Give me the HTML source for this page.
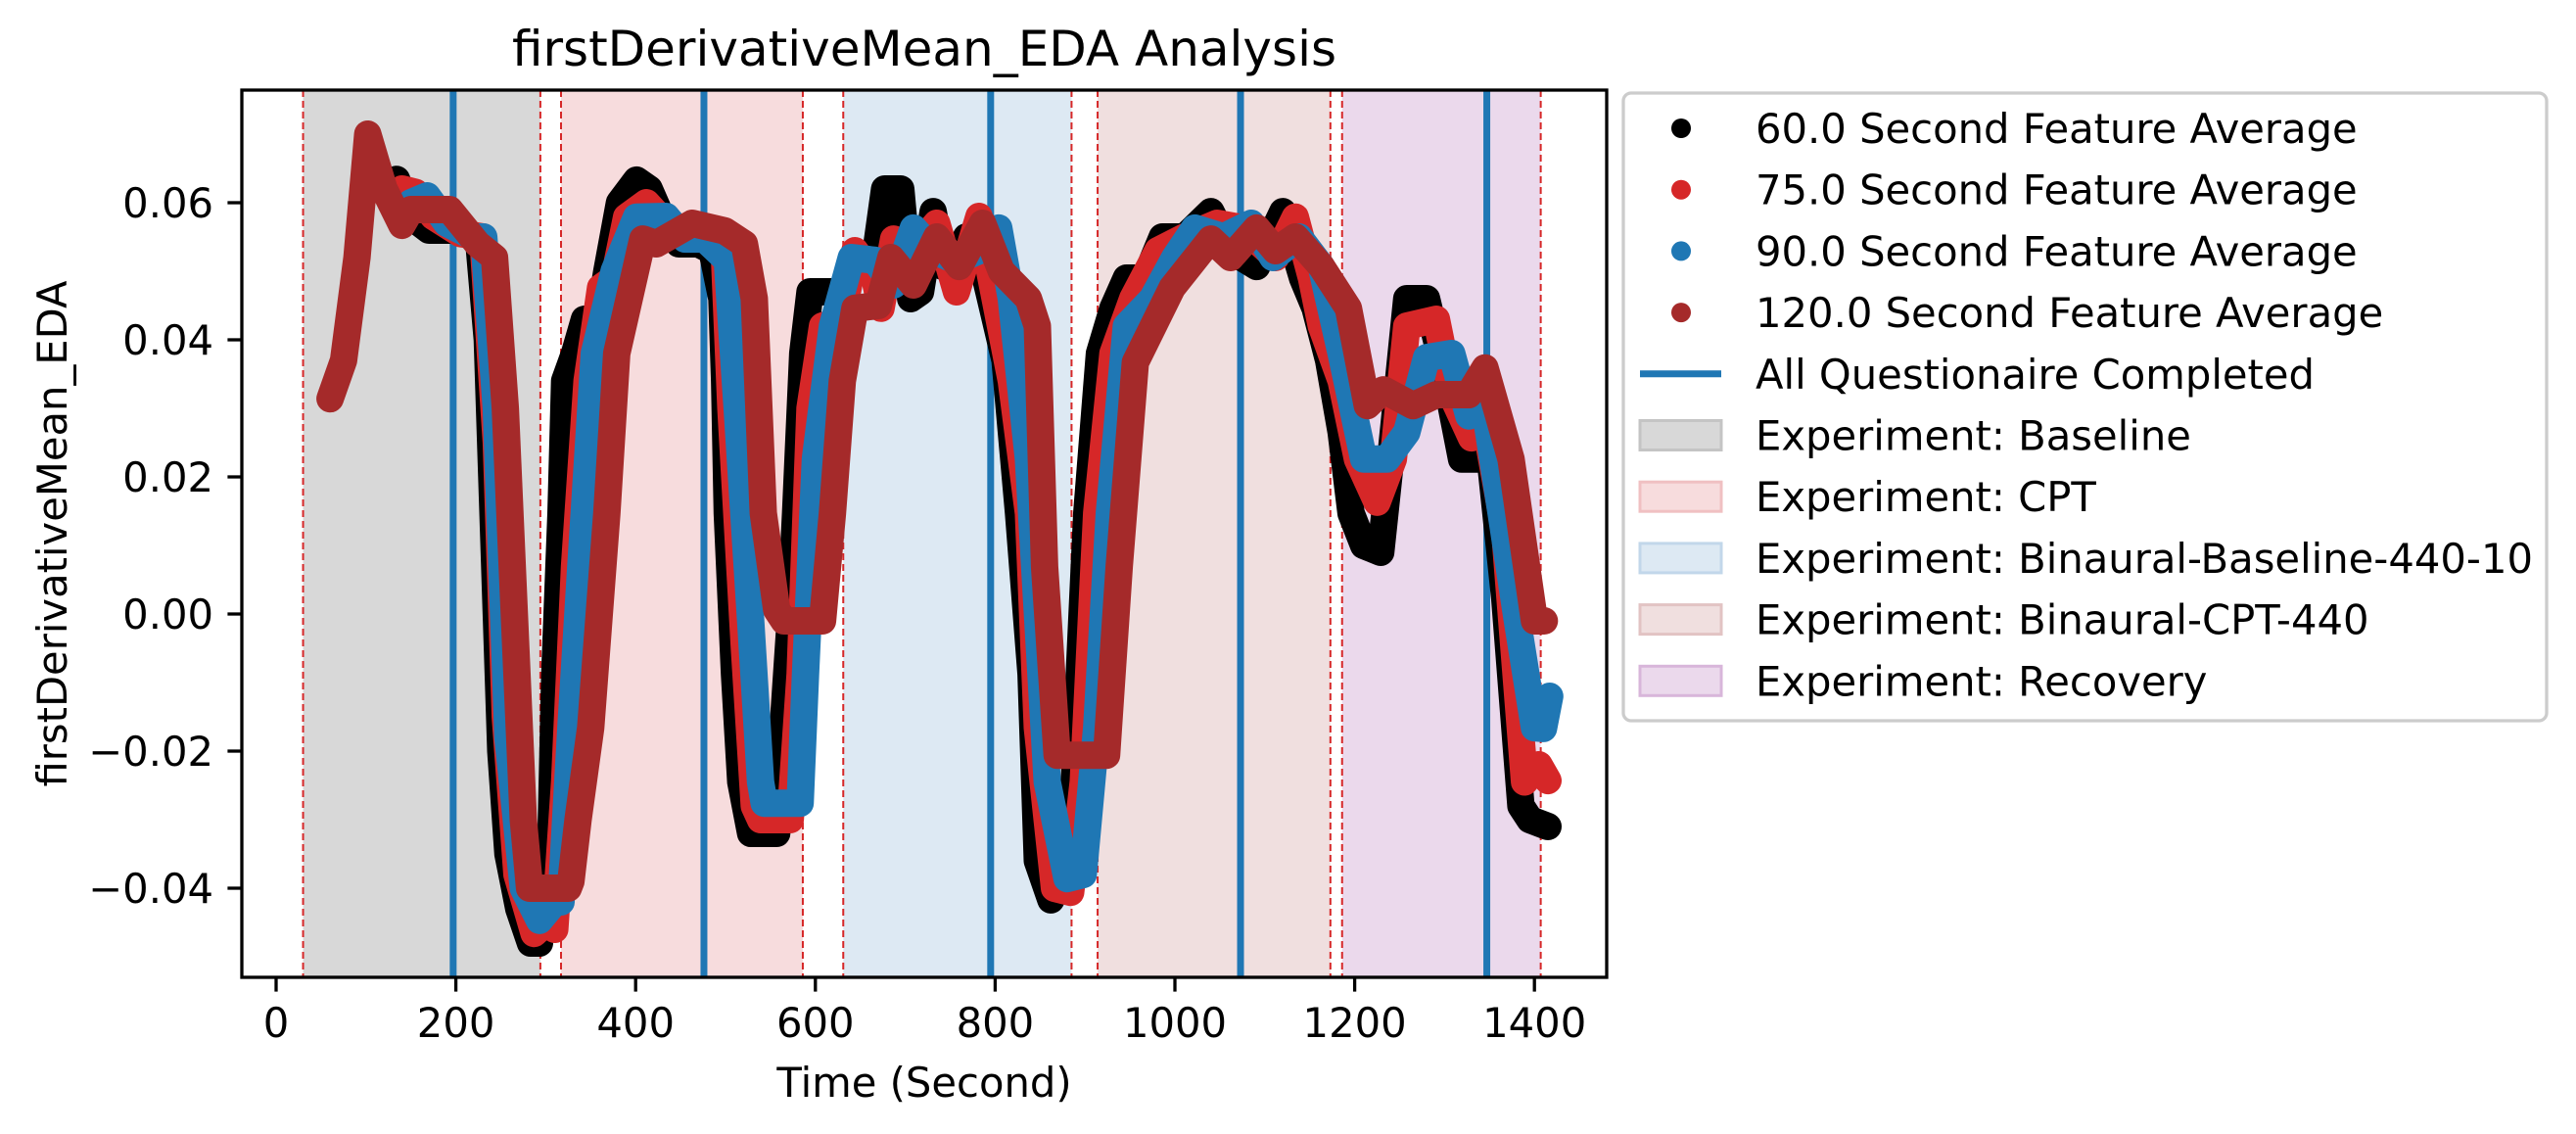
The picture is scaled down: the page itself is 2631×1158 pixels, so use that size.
<!DOCTYPE html>
<html><head><meta charset="utf-8"><style>
html,body{margin:0;padding:0;background:#fff;}
svg{display:block;font-family:"DejaVu Sans","Liberation Sans",sans-serif;}
</style></head><body>
<svg id="chart" width="2631" height="1158" viewBox="0 0 2631 1158" xmlns="http://www.w3.org/2000/svg">
<rect x="0" y="0" width="2631" height="1158" fill="#fff"/>
<g id="spans"></g>
<g id="series"></g>
<g id="axes"></g>
<text x="944" y="67" font-size="50" text-anchor="middle">firstDerivativeMean_EDA Analysis</text>
<text x="944" y="1120" font-size="41.7" text-anchor="middle">Time (Second)</text>
<text x="0" y="0" font-size="41.7" text-anchor="middle" transform="translate(68,545) rotate(-90)">firstDerivativeMean_EDA</text>
<g id="legend"></g>
</svg>
<script>
// ---- data ----
const spanNames = ["Baseline","CPT","Binaural-Baseline-440-10","Binaural-CPT-440","Recovery"];
const spanStarts = [30, 317, 631, 914, 1186];
const spanEnds = [294, 586, 885, 1173, 1407];
const questionnaireTimes = [197, 476, 795, 1073, 1347];

const s60t = [125,134,150,170,200,225,235,240,245,250,258,270,283,293,306,310,317,321,332,343,354,368,382,401,415,434,448,470,485,496,499,502,510,517,528,557,564,572,578,586,594,622,633,644,666,677,695,706,717,731,742,757,768,782,793,811,826,840,847,862,877,888,902,916,931,946,967,986,1011,1040,1062,1091,1120,1142,1156,1171,1185,1196,1210,1229,1240,1258,1280,1302,1319,1338,1345,1367,1385,1395,1415];
const s60v = [0.062,0.0634,0.058,0.056,0.056,0.055,0.04,0.02,0.0,-0.02,-0.035,-0.043,-0.048,-0.048,-0.032,-0.0088,0.0147,0.034,0.038,0.043,0.039,0.050,0.060,0.0633,0.062,0.0563,0.054,0.054,0.053,0.046,0.034,0.0147,-0.0088,-0.0245,-0.032,-0.032,-0.0166,-0.001,0.0147,0.038,0.047,0.047,0.0476,0.0516,0.0516,0.062,0.062,0.046,0.047,0.0587,0.0507,0.0516,0.055,0.053,0.047,0.037,0.0147,-0.0088,-0.036,-0.0417,-0.038,-0.0245,0.0147,0.038,0.0446,0.049,0.049,0.055,0.055,0.0587,0.053,0.0507,0.0587,0.049,0.0446,0.037,0.0265,0.0147,0.010,0.009,0.0226,0.046,0.046,0.034,0.0226,0.0226,0.030,0.0023,-0.028,-0.030,-0.031];

const s75t = [140,155,175,205,230,245,255,268,287,300,310,321,332,346,361,376,390,412,426,448,485,499,506,521,532,539,572,583,594,608,630,644,666,673,687,709,735,757,782,800,818,837,847,866,884,898,913,931,953,981,1011,1047,1076,1112,1134,1152,1163,1185,1203,1225,1243,1258,1291,1308,1330,1345,1367,1389,1405,1415];
const s75v = [0.062,0.0615,0.058,0.0555,0.055,0.025,-0.015,-0.038,-0.0466,-0.045,-0.046,-0.0245,0.0069,0.034,0.0476,0.049,0.0579,0.060,0.058,0.0557,0.0557,0.0516,0.030,-0.005,-0.028,-0.030,-0.030,-0.0088,0.030,0.042,0.043,0.053,0.049,0.0446,0.0547,0.053,0.057,0.047,0.058,0.046,0.034,0.0147,-0.0166,-0.040,-0.0406,-0.0245,0.0147,0.038,0.046,0.053,0.055,0.057,0.0563,0.052,0.0579,0.049,0.042,0.034,0.0226,0.0163,0.0226,0.042,0.043,0.032,0.0257,0.028,0.012,-0.0245,-0.022,-0.0243];

const s90t = [150,168,190,220,231,245,258,275,293,310,317,328,339,354,376,401,434,455,477,502,513,528,539,543,583,589,600,619,640,666,687,709,731,757,782,804,818,837,858,880,898,913,927,946,975,1000,1022,1054,1085,1109,1138,1163,1185,1210,1236,1258,1280,1308,1327,1345,1363,1381,1400,1410,1417];
const s90v = [0.060,0.061,0.057,0.055,0.055,0.03,-0.018,-0.040,-0.0447,-0.042,-0.042,-0.0166,0.0069,0.038,0.050,0.0579,0.058,0.0547,0.0547,0.0516,0.030,-0.001,-0.0245,-0.0276,-0.0276,-0.0088,0.0226,0.042,0.052,0.0516,0.048,0.0563,0.053,0.0516,0.053,0.0563,0.046,0.0226,-0.0245,-0.0386,-0.038,-0.0166,0.0147,0.042,0.046,0.052,0.0563,0.055,0.057,0.052,0.055,0.0507,0.038,0.0226,0.0226,0.0265,0.0374,0.038,0.0289,0.030,0.0147,-0.001,-0.0166,-0.0167,-0.012];

const s120t = [60,75,90,102,120,140,150,193,224,243,255,265,275,282,325,328,336,350,368,379,408,423,463,499,521,532,542,557,565,608,619,630,644,670,684,709,735,760,786,807,837,847,855,869,924,938,956,997,1040,1062,1091,1112,1134,1163,1193,1214,1232,1265,1291,1327,1345,1374,1400,1411];
const s120v = [0.0314,0.037,0.052,0.070,0.062,0.0567,0.059,0.059,0.054,0.052,0.03,0.0,-0.03,-0.040,-0.040,-0.039,-0.030,-0.0166,0.0147,0.038,0.0547,0.054,0.057,0.0559,0.054,0.046,0.0147,0.0006,-0.001,-0.001,0.0147,0.034,0.0446,0.045,0.052,0.048,0.055,0.0507,0.057,0.050,0.046,0.042,0.0069,-0.0206,-0.0206,0.0069,0.0367,0.0476,0.0547,0.052,0.0563,0.053,0.055,0.0507,0.0446,0.0304,0.0327,0.0304,0.032,0.032,0.0359,0.0226,-0.001,-0.001];

const xTicks = [0,200,400,600,800,1000,1200,1400];
const yTicks = [-0.04,-0.02,0.00,0.02,0.04,0.06];
const yTickLabels = ["\u22120.04","\u22120.02","0.00","0.02","0.04","0.06"];
const legendLabels = ["60.0 Second Feature Average","75.0 Second Feature Average","90.0 Second Feature Average","120.0 Second Feature Average","All Questionaire Completed","Experiment: Baseline","Experiment: CPT","Experiment: Binaural-Baseline-440-10","Experiment: Binaural-CPT-440","Experiment: Recovery"];

// ---- layout ----
const L=247,R=1641,T=92,B=998;
function xs(t){return 282 + t*0.918;}
function ys(v){return 627 - v*7000;}
const NS="http://www.w3.org/2000/svg";
function mk(tag,attrs,parent){const e=document.createElementNS(NS,tag);for(const k in attrs)e.setAttribute(k,attrs[k]);parent.appendChild(e);return e;}
const spanFill=["#d8d8d8","#f7dcdd","#dde9f3","#f0dfdf","#ebd9ec"];
const spanEdge=["#c4c4c4","#f0c0c2","#c2d7ea","#e2c3c3","#d8b6da"];

const gS=document.getElementById('spans');
spanNames.forEach((n,i)=>{
  const r=mk('rect',{x:xs(spanStarts[i]),y:T,width:xs(spanEnds[i])-xs(spanStarts[i]),height:B-T,fill:spanFill[i]},gS);
  
  
  [spanStarts[i],spanEnds[i]].forEach(t=>{
    const l=mk('line',{x1:xs(t),x2:xs(t),y1:T,y2:B,stroke:'#d62728','stroke-width':2,'stroke-dasharray':'7,4'},gS);
    
    
  });
});
questionnaireTimes.forEach(t=>{
  const l=mk('line',{x1:xs(t),x2:xs(t),y1:T,y2:B,stroke:'#1f77b4','stroke-width':7},gS);
  
  
});

const gD=document.getElementById('series');
const series=[[s60t,s60v,'#000000','series-60s'],[s75t,s75v,'#d62728','series-75s'],[s90t,s90v,'#1f77b4','series-90s'],[s120t,s120v,'#a52a2a','series-120s']];
series.forEach(s=>{
  const pts=s[0].map((t,i)=>xs(t).toFixed(1)+','+ys(s[1][i]).toFixed(1)).join(' ');
  const p=mk('polyline',{points:pts,fill:'none',stroke:s[2],'stroke-width':28,'stroke-linejoin':'round','stroke-linecap':'round'},gD);
  
  
});

const gA=document.getElementById('axes');
const fr=mk('rect',{x:L,y:T,width:R-L,height:B-T,fill:'none',stroke:'#000','stroke-width':3.3},gA);


xTicks.forEach(t=>{
  const tk=mk('line',{x1:xs(t),x2:xs(t),y1:B,y2:B+14.6,stroke:'#000','stroke-width':3.3},gA);
  
  
  const tx=mk('text',{x:xs(t),y:1059,'font-size':41.7,'text-anchor':'middle'},gA);
  tx.textContent=String(t);
  
  
});
yTicks.forEach((v,i)=>{
  const tk=mk('line',{x1:L-14.6,x2:L,y1:ys(v),y2:ys(v),stroke:'#000','stroke-width':3.3},gA);
  
  
  const tx=mk('text',{x:218,y:ys(v)+15,'font-size':41.7,'text-anchor':'end'},gA);
  tx.textContent=yTickLabels[i];
  
  
});

const gL=document.getElementById('legend');
const box=mk('rect',{x:1658,y:95,width:943,height:641,rx:8,fill:'#fff',stroke:'#cccccc','stroke-width':3.3},gL);


const dotCols=['#000000','#d62728','#1f77b4','#a52a2a'];
legendLabels.forEach((lab,i)=>{
  const cy=131+i*62.7;
  let m;
  if(i<4){m=mk('circle',{cx:1717,cy:cy,r:10,fill:dotCols[i]},gL);}
  else if(i==4){m=mk('line',{x1:1675,x2:1758,y1:cy,y2:cy,stroke:'#1f77b4','stroke-width':7},gL);}
  else{m=mk('rect',{x:1675,y:cy-15,width:83,height:30,fill:spanFill[i-5],stroke:spanEdge[i-5],'stroke-width':3},gL);}
  
  
  const tx=mk('text',{x:1793,y:cy+15,'font-size':41.7},gL);
  tx.textContent=lab;
  
  
});
</script>
</body></html>
